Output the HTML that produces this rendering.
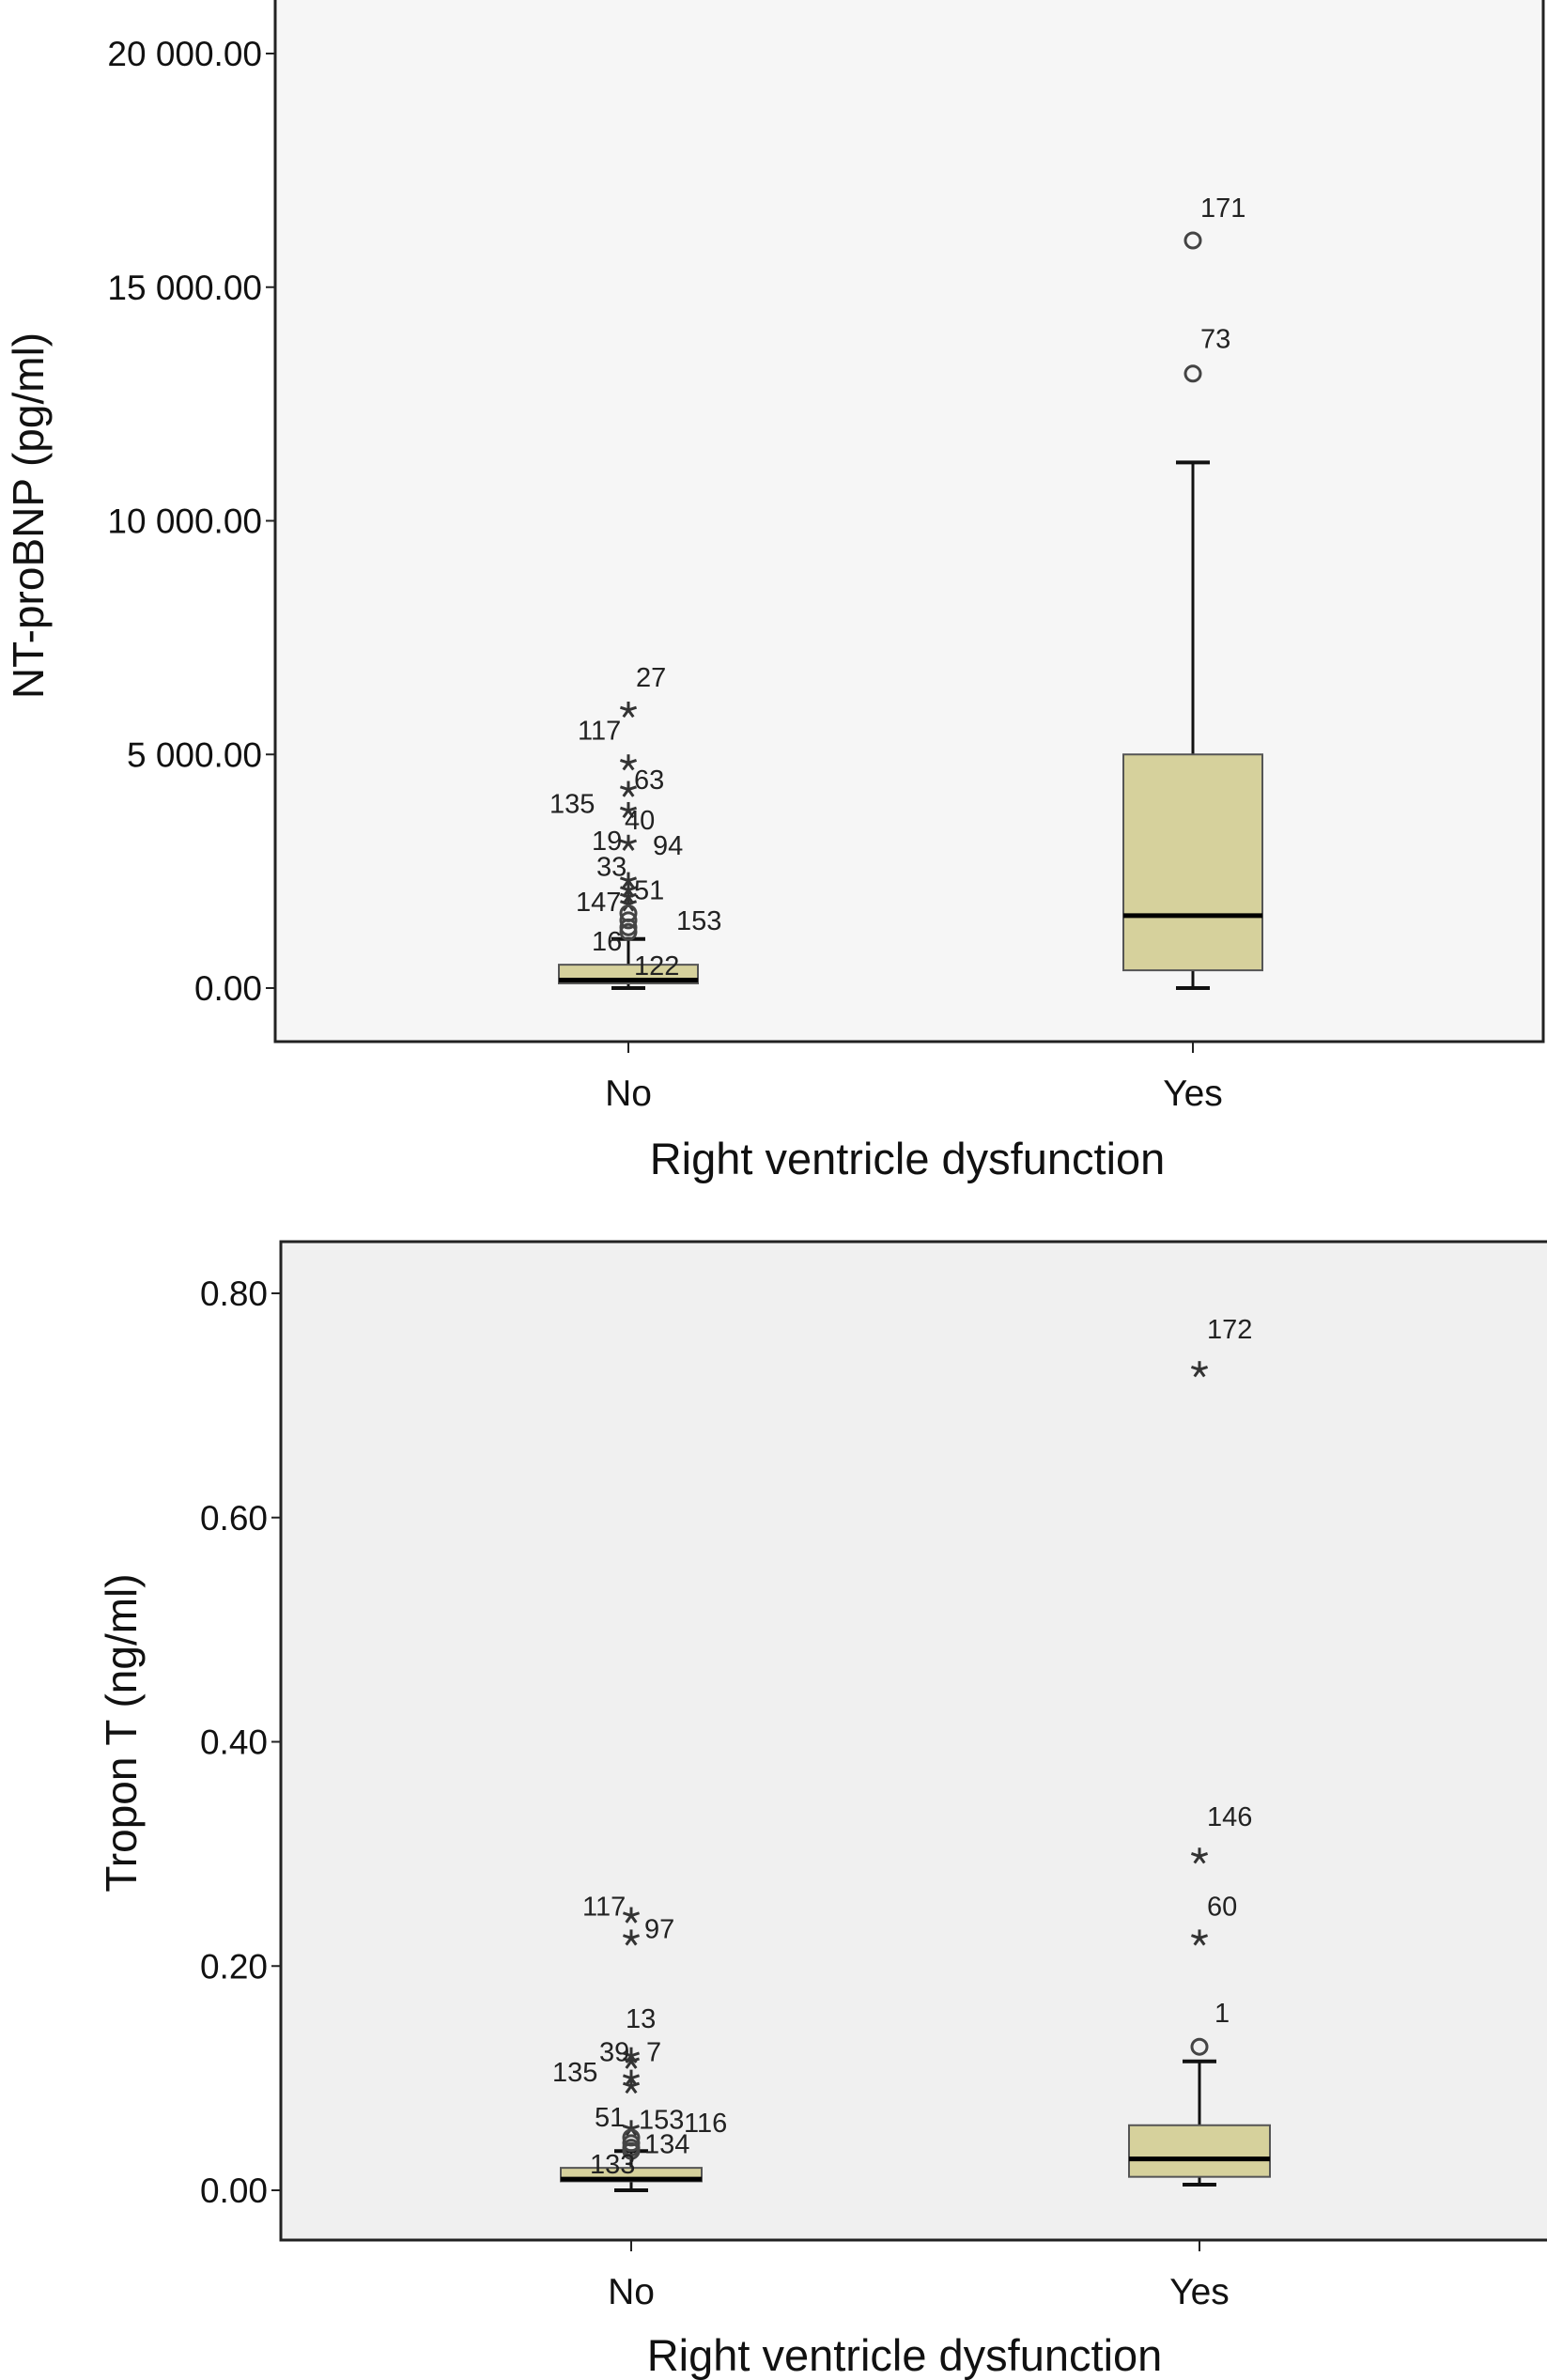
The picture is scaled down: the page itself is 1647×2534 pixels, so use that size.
<!DOCTYPE html>
<html><head><meta charset="utf-8"><style>
html,body{margin:0;padding:0;background:#fff;}
svg{display:block;font-family:"Liberation Sans",sans-serif;}
</style></head><body>
<svg id="c" width="1647" height="2534" viewBox="0 0 1647 2534"></svg>
<script>
const categories = ["No", "Yes"];
// Chart 1: NT-proBNP
const bnpTicks = [0, 5000, 10000, 15000, 20000];
const bnpTickLabels = ["0.00", "5 000.00", "10 000.00", "15 000.00", "20 000.00"];
const bnpMin = [0, 0];
const bnpQ1 = [100, 380];
const bnpMedian = [170, 1550];
const bnpQ3 = [500, 5000];
const bnpMax = [1050, 11250];
const bnpOutCat = [1, 1, 0, 0, 0, 0, 0, 0, 0, 0, 0, 0, 0, 0, 0];
const bnpOutVal = [16000, 13150, 5950, 4820, 4250, 3800, 3100, 2300, 2100, 1950, 1800, 1600, 1450, 1300, 1200];
const bnpOutType = ["o", "o", "*", "*", "*", "*", "*", "*", "*", "*", "*", "o", "o", "o", "o"];
const bnpLabels = ["171", "73", "27", "117", "63", "135", "40", "33", "51", "94", "19", "147", "153", "16", "122"];
const bnpLabelVal = [16500, 13700, 6450, 5320, 4260, 3750, 3400, 2400, 1900, 2850, 2950, 1650, 1250, 800, 280];
const bnpLabelDx = [2, 2, 2, -60, 0, -90, -10, -40, 0, 20, -45, -62, 45, -45, 0];
// Chart 2: Troponin T
const tntTicks = [0, 0.2, 0.4, 0.6, 0.8];
const tntTickLabels = ["0.00", "0.20", "0.40", "0.60", "0.80"];
const tntMin = [0, 0.005];
const tntQ1 = [0.008, 0.012];
const tntMedian = [0.01, 0.028];
const tntQ3 = [0.02, 0.058];
const tntMax = [0.035, 0.115];
const tntOutCat = [1, 1, 1, 1, 0, 0, 0, 0, 0, 0, 0, 0, 0, 0, 0];
const tntOutVal = [0.732, 0.298, 0.225, 0.128, 0.245, 0.225, 0.12, 0.115, 0.1, 0.093, 0.055, 0.047, 0.042, 0.038, 0.035];
const tntOutType = ["*", "*", "*", "o", "*", "*", "*", "*", "*", "*", "*", "o", "o", "o", "o"];
const tntLabels = ["172", "146", "60", "1", "117", "97", "13", "39", "7", "135", "51", "153", "116", "134", "133"];
const tntLabelVal = [0.76, 0.325, 0.245, 0.15, 0.245, 0.225, 0.145, 0.115, 0.115, 0.097, 0.057, 0.055, 0.052, 0.033, 0.015];
const tntLabelDx = [2, 2, 2, 10, -58, 8, -12, -40, 10, -90, -45, 2, 50, 8, -50];

const NS = "http://www.w3.org/2000/svg";
const svg = document.getElementById("c");
function mk(tag, attrs, parent) {
  const e = document.createElementNS(NS, tag);
  for (const k in attrs) e.setAttribute(k, attrs[k]);
  (parent || svg).appendChild(e);
  return e;
}
function draw(cfg) {
  const g = mk("g", {});
  
  
  const y = v => cfg.y0 + (v - cfg.vmin) / (cfg.vmax - cfg.vmin) * (cfg.y1 - cfg.y0);
  const x = i => cfg.xs[i];
  const bg = mk("rect", {x: cfg.L, y: cfg.T, width: cfg.R - cfg.L, height: cfg.B - cfg.T, fill: cfg.bg, stroke: "#222", "stroke-width": 3}, g);
  
  
  cfg.ticks.forEach((t, i) => {
    mk("line", {x1: cfg.L - 10, x2: cfg.L, y1: y(t), y2: y(t), stroke: "#222", "stroke-width": 2}, g);
    const tx = mk("text", {x: cfg.L - 14, y: y(t) + 13, "text-anchor": "end", "font-size": 37, fill: "#111"}, g);
    tx.textContent = cfg.tickLabels[i];
    
    
  });
  categories.forEach((c, i) => {
    mk("line", {x1: x(i), x2: x(i), y1: cfg.B, y2: cfg.B + 12, stroke: "#222", "stroke-width": 2}, g);
    const tx = mk("text", {x: x(i), y: cfg.B + 68, "text-anchor": "middle", "font-size": 39, fill: "#111"}, g);
    tx.textContent = c;
    
    
    const w = cfg.bw / 2;
    mk("line", {x1: x(i), x2: x(i), y1: y(cfg.max[i]), y2: y(cfg.q3[i]), stroke: "#111", "stroke-width": 3}, g);
    mk("line", {x1: x(i), x2: x(i), y1: y(cfg.q1[i]), y2: y(cfg.min[i]), stroke: "#111", "stroke-width": 3}, g);
    mk("line", {x1: x(i) - 18, x2: x(i) + 18, y1: y(cfg.max[i]), y2: y(cfg.max[i]), stroke: "#111", "stroke-width": 4}, g);
    mk("line", {x1: x(i) - 18, x2: x(i) + 18, y1: y(cfg.min[i]), y2: y(cfg.min[i]), stroke: "#111", "stroke-width": 4}, g);
    const b = mk("rect", {x: x(i) - w, y: y(cfg.q3[i]), width: cfg.bw, height: Math.max(2, y(cfg.q1[i]) - y(cfg.q3[i])), fill: "#d6d19c", stroke: "#555", "stroke-width": 2}, g);
    
    
    mk("line", {x1: x(i) - w, x2: x(i) + w, y1: y(cfg.med[i]), y2: y(cfg.med[i]), stroke: "#000", "stroke-width": 5}, g);
  });
  cfg.oVal.forEach((v, k) => {
    const cx = x(cfg.oCat[k]), cy = y(v);
    if (cfg.oType[k] === "o") {
      const c = mk("circle", {cx: cx, cy: cy, r: 8, fill: "none", stroke: "#444", "stroke-width": 3}, g);
      
      
    } else {
      const s = mk("g", {stroke: "#333", "stroke-width": 3}, g);
      
      
      for (let a = 0; a < 5; a++) {
        const ang = -Math.PI / 2 + a * 2 * Math.PI / 5;
        mk("line", {x1: cx, y1: cy, x2: cx + 9 * Math.cos(ang), y2: cy + 9 * Math.sin(ang)}, s);
      }
    }
  });
  cfg.lab.forEach((l, k) => {
    const cat = cfg.oCat[k];
    const t = mk("text", {x: x(cat) + 6 + cfg.lDx[k], y: y(cfg.lVal[k]), "font-size": 29, fill: "#222"}, g);
    t.textContent = l;
    
    
  });
  const xt = mk("text", {x: cfg.xtX, y: cfg.xtY, "text-anchor": "middle", "font-size": 47, fill: "#111"}, g);
  xt.textContent = "Right ventricle dysfunction";
  
  
  const yt = mk("text", {x: 0, y: 0, "text-anchor": "middle", "font-size": 46, fill: "#111", transform: `translate(${cfg.ytX},${cfg.ytY}) rotate(-90)`}, g);
  yt.textContent = cfg.ytitle;
  
  
}
draw({name: "ntprobnp-chart", L: 293, T: -2, R: 1643, B: 1109, y0: 1052, y1: 57, vmin: 0, vmax: 20000, xs: [669, 1270], bw: 148, bg: "#f6f6f6",
  ticks: bnpTicks, tickLabels: bnpTickLabels, min: bnpMin, q1: bnpQ1, med: bnpMedian, q3: bnpQ3, max: bnpMax,
  oCat: bnpOutCat, oVal: bnpOutVal, oType: bnpOutType, lab: bnpLabels, lVal: bnpLabelVal, lDx: bnpLabelDx,
  xtX: 966, xtY: 1250, ytX: 46, ytY: 549, ytitle: "NT-proBNP (pg/ml)"});
draw({name: "troponin-chart", L: 299, T: 1322, R: 1650, B: 2385, y0: 2332, y1: 1377, vmin: 0, vmax: 0.8, xs: [672, 1277], bw: 150, bg: "#f0f0f0",
  ticks: tntTicks, tickLabels: tntTickLabels, min: tntMin, q1: tntQ1, med: tntMedian, q3: tntQ3, max: tntMax,
  oCat: tntOutCat, oVal: tntOutVal, oType: tntOutType, lab: tntLabels, lVal: tntLabelVal, lDx: tntLabelDx,
  xtX: 963, xtY: 2524, ytX: 145, ytY: 1845, ytitle: "Tropon T (ng/ml)"});
</script>
</body></html>
